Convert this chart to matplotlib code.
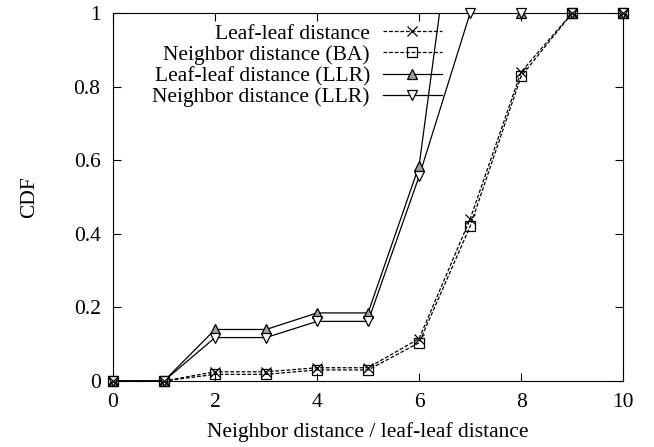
import numpy as np
import matplotlib.pyplot as plt
from matplotlib.lines import Line2D

plt.rcParams['font.family'] = ['Liberation Serif', 'DejaVu Serif']

x = [0, 1, 2, 3, 4, 5, 6, 7, 8, 9, 10]
leaf_ba = [0, 0, 0.025, 0.025, 0.036, 0.036, 0.115, 0.44, 0.84, 1, 1]
neigh_ba = [0, 0, 0.018, 0.018, 0.030, 0.030, 0.104, 0.42, 0.828, 1, 1]
leaf_llr = [0, 0, 0.14, 0.14, 0.185, 0.185, 0.585, 1.62, 1, 1, 1]
neigh_llr = [0, 0, 0.118, 0.118, 0.162, 0.162, 0.556, 1, 1, 1, 1]
labels = ['Leaf-leaf distance', 'Neighbor distance (BA)',
          'Leaf-leaf distance (LLR)', 'Neighbor distance (LLR)']

fig = plt.figure(figsize=(6.54, 4.47), dpi=100)
ax = fig.add_axes([0.1728, 0.1477, 0.780, 0.823])

dash = (0, (3, 1.5))
styles = [
    dict(ls=dash, marker='x', ms=7, mfc='none', z=3.4),
    dict(ls=dash, marker='s', ms=6.5, mfc='none', z=3.3),
    dict(ls='-', marker='^', ms=7, mfc='#a0a0a0', z=3.1),
    dict(ls='-', marker='v', ms=7, mfc='white', z=3.2),
]
handles = []
for y, st, lab in zip([leaf_ba, neigh_ba, leaf_llr, neigh_llr], styles, labels):
    # line clipped to the axes, markers drawn on top of the frame too
    ax.plot(x, y, color='black', lw=0.9, ls=st['ls'])
    keep = [i for i, v in enumerate(y) if v <= 1]
    ax.plot(x, y, color='black', ls='none', marker=st['marker'], ms=st['ms'],
            mew=0.9, mfc=st['mfc'], markevery=keep, clip_on=False, zorder=st['z'])
    handles.append(Line2D([], [], color='black', lw=0.9, ls=st['ls'], marker=st['marker'],
                          ms=st['ms'], mew=0.9, mfc=st['mfc']))

ax.set_xlim(0, 10)
ax.set_ylim(0, 1)
ax.set_xticks([0, 2, 4, 6, 8, 10])
ax.set_yticks([0, 0.2, 0.4, 0.6, 0.8, 1])
ax.set_yticklabels(['0', '0.2', '0.4', '0.6', '0.8', '1'])
ax.tick_params(direction='in', top=True, right=True, length=6, labelsize=15.5, pad=9)
ax.set_xlabel('Neighbor distance / leaf-leaf distance', fontsize=15.5, labelpad=7)
ax.set_ylabel('CDF', fontsize=15.5, labelpad=25)

leg = ax.legend(handles, labels, loc='upper right', bbox_to_anchor=(0.645, 0.971),
                frameon=False, fontsize=15.5, markerfirst=False, handlelength=2.75,
                handletextpad=0.6, labelspacing=0.05, borderaxespad=0.0, borderpad=0.0)
for t in leg.get_texts():
    t.set_ha('right')
leg._legend_box.align = 'right'

fig.savefig('out.png', dpi=100)
